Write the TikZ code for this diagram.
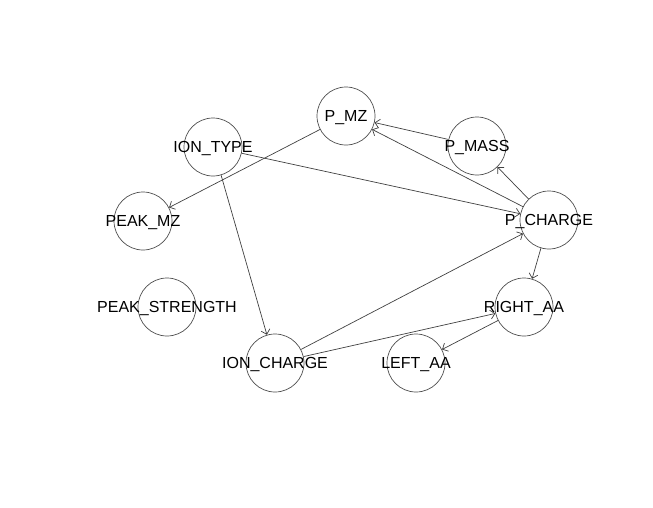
\documentclass[tikz,border=0pt]{standalone}
\usepackage{fontspec}
\setmainfont{Liberation Sans}
\usetikzlibrary{arrows.meta}
\begin{document}
\begin{tikzpicture}[x=1pt, y=-1pt,
  vtx/.style={circle, draw=black!70, line width=0.7pt, minimum size=58pt, inner sep=0pt},
  lbl/.style={font=\fontsize{16}{18}\selectfont, yshift=-1.5pt},
  arc/.style={draw=black!75, line width=0.7pt, -{Straight Barb[length=4.5pt, width=9pt]}}]
\useasboundingbox (0,0) rectangle (653,507);
\node[vtx, label={[lbl]center:P\_MZ}] (pmz) at (346,116){};
\node[vtx, label={[lbl]center:P\_MASS}] (pmass) at (477,146){};
\node[vtx, label={[lbl]center:P\_CHARGE}] (pcharge) at (549,220){};
\node[vtx, label={[lbl]center:ION\_TYPE}] (iontype) at (213,147){};
\node[vtx, label={[lbl]center:PEAK\_MZ}] (peakmz) at (143,221){};
\node[vtx, label={[lbl]center:PEAK\_STRENGTH}] (peakstr) at (167,307){};
\node[vtx, label={[lbl]center:ION\_CHARGE}] (ioncharge) at (275,363){};
\node[vtx, label={[lbl]center:LEFT\_AA}] (leftaa) at (416,363){};
\node[vtx, label={[lbl]center:RIGHT\_AA}] (rightaa) at (524,307){};
\draw[arc](pmass) -- (pmz);
\draw[arc](pcharge) -- (pmz);
\draw[arc](pcharge) -- (pmass);
\draw[arc](iontype) -- (pcharge);
\draw[arc](ioncharge) -- (pcharge);
\draw[arc](pmz) -- (peakmz);
\draw[arc](iontype) -- (ioncharge);
\draw[arc](pcharge) -- (rightaa);
\draw[arc](ioncharge) -- (rightaa);
\draw[arc](rightaa) -- (leftaa);
\end{tikzpicture}
\end{document}
